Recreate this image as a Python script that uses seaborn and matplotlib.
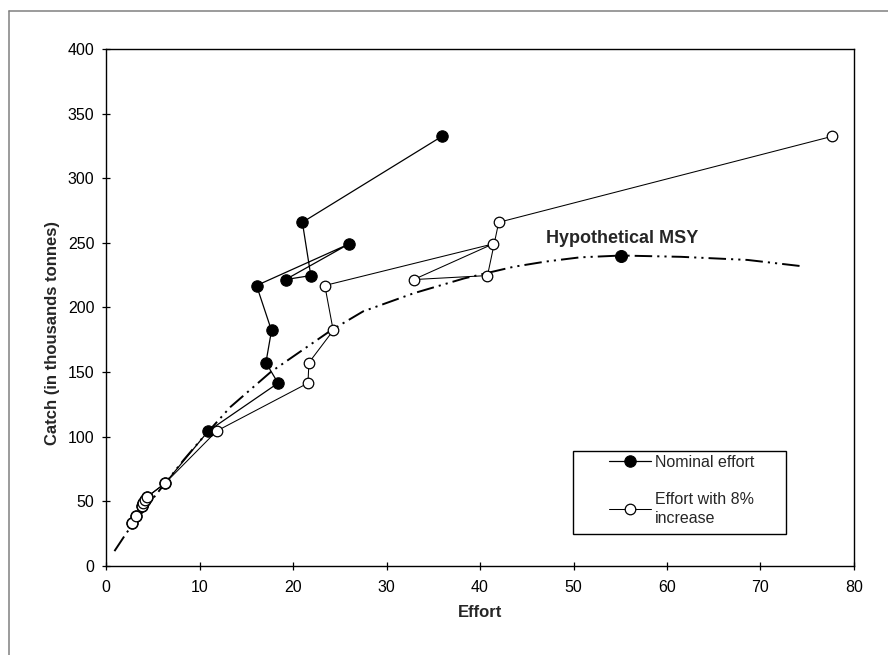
import matplotlib
matplotlib.use("Agg")
import matplotlib.pyplot as plt
from matplotlib.lines import Line2D
from matplotlib.patches import Rectangle
import pandas as pd
import seaborn as sns

# Annual catch (thousand tonnes), in chronological order
catch = [33, 38.8, 46.3, 48.4, 51, 53.5, 63.9, 104.5, 141.5, 157.3,
         182.2, 217, 249.2, 221.6, 224.7, 265.9, 332.3]

# Nominal fishing effort per year
effort_nominal = [2.8, 3.2, 3.9, 4.0, 4.2, 4.4, 6.3, 10.95, 18.4, 17.1,
                  17.7, 16.1, 26.0, 19.2, 21.9, 21.0, 35.9]

# Effort allowing for an 8% yearly increase in fishing power
effort_increase = [2.8, 3.2, 3.9, 4.0, 4.2, 4.4, 6.3, 11.85, 21.6, 21.7,
                   24.3, 23.4, 41.4, 32.9, 40.8, 42.0, 77.6]

# Equilibrium yield curve
curve_effort = [0.9, 2.2, 5.0, 8.3, 10.1, 13.3, 17.6, 20.4, 24.0, 27.5,
                32.9, 38.3, 43.6, 47.0, 50.7, 55.1, 61.5, 68.6, 74.7]
curve_catch = [11.5, 25.7, 52, 82, 97.3, 123, 150, 164, 182, 197,
               211, 222.5, 231.5, 235.5, 238.8, 240.2, 239.2, 236.8, 231.7]

# Maximum sustainable yield
msy_effort = [55.1]
msy_catch = [240.2]

x_ticks = [0, 10, 20, 30, 40, 50, 60, 70, 80]
y_ticks = [0, 50, 100, 150, 200, 250, 300, 350, 400]

series_labels = ["Nominal effort", "Effort with 8%\nincrease"]

sns.set_style("ticks")
plt.rcParams["font.family"] = ["Liberation Sans", "DejaVu Sans"]

fig = plt.figure(figsize=(8.88, 6.55), dpi=100)
fig.patch.set_facecolor("white")
ax = fig.add_axes([0.1194, 0.1359, 0.8423, 0.7893])

curve_df = pd.DataFrame({"Effort": curve_effort, "Catch": curve_catch})
nominal_df = pd.DataFrame({"Effort": effort_nominal, "Catch": catch})
increase_df = pd.DataFrame({"Effort": effort_increase, "Catch": catch})
msy_df = pd.DataFrame({"Effort": msy_effort, "Catch": msy_catch})

# yield curve, dash-dot-dot
sns.lineplot(data=curve_df, x="Effort", y="Catch", ax=ax, sort=False,
             estimator=None, color="black", linewidth=1.4,
             linestyle=(0, (9, 2.6, 1.1, 2.6, 1.1, 2.6)), legend=False,
             zorder=2)

sns.lineplot(data=nominal_df, x="Effort", y="Catch", ax=ax, sort=False,
             estimator=None, color="black", linewidth=0.9, marker="o",
             markersize=8.2, markerfacecolor="black", markeredgecolor="black",
             markeredgewidth=0.8, label=series_labels[0], zorder=3)

sns.lineplot(data=increase_df, x="Effort", y="Catch", ax=ax, sort=False,
             estimator=None, color="black", linewidth=0.75, marker="o",
             markersize=7.6, markerfacecolor="white", markeredgecolor="black",
             markeredgewidth=0.9, label=series_labels[1], zorder=4)

sns.scatterplot(data=msy_df, x="Effort", y="Catch", ax=ax, s=75,
                color="black", edgecolor="black", legend=False, zorder=5)

ax.text(55.2, 250, "Hypothetical MSY", ha="center", va="baseline",
        fontsize=13, fontweight="bold")

ax.set_xlim(0, 80)
ax.set_ylim(0, 400)
ax.set_xticks(x_ticks)
ax.set_yticks(y_ticks)
ax.tick_params(direction="inout", length=5.8, width=0.9, labelsize=11.5,
               colors="black", top=False, right=False)
ax.tick_params(axis="x", pad=7.0)
ax.tick_params(axis="y", pad=5.5)
for side in ["left", "bottom", "top", "right"]:
    ax.spines[side].set_color("black")
    ax.spines[side].set_linewidth(1.0)

ax.set_xlabel("Effort", fontsize=12, fontweight="bold", labelpad=7.5)
ax.set_ylabel("Catch (in thousands tonnes)", fontsize=12, fontweight="bold")
ax.yaxis.set_label_coords(-0.0615, 0.45)

# legend box
ax.add_patch(Rectangle((0.6247, 0.0613), 0.284, 0.1611, transform=ax.transAxes,
                       facecolor="white", edgecolor="black", linewidth=1.0,
                       zorder=6))
handles, labels = ax.get_legend_handles_labels()
leg = ax.legend(handles, labels, loc="upper left",
                bbox_to_anchor=(0.6725, 0.2155), frameon=False, borderpad=0,
                borderaxespad=0, handlelength=2.6, handletextpad=0.3,
                labelspacing=1.4, fontsize=11.5)
for txt in leg.get_texts():
    txt.set_linespacing(1.3)
leg.set_zorder(7)

# outer chart border
fig.add_artist(Line2D([0.0101, 1.0], [0.9832, 0.9832],
                      transform=fig.transFigure, color="#808080", linewidth=1.1))
fig.add_artist(Line2D([0.0101, 0.0101], [0.0, 0.9832],
                      transform=fig.transFigure, color="#808080", linewidth=1.1))

fig.savefig("out.png", dpi=100)
